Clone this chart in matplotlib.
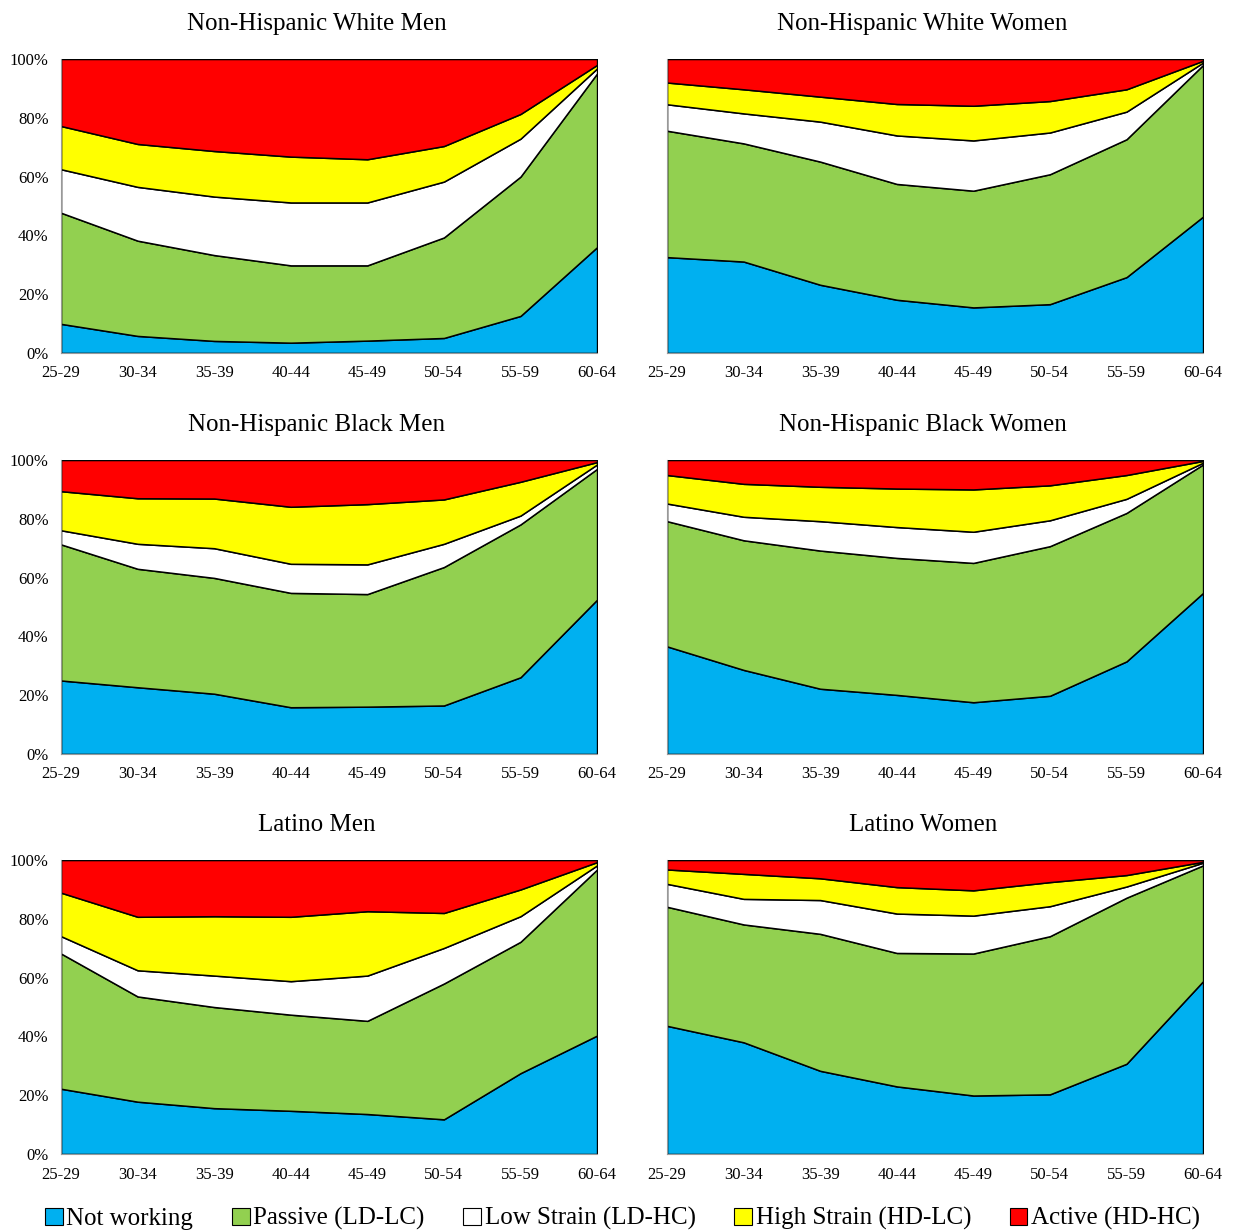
import matplotlib
matplotlib.use("Agg")
import matplotlib.pyplot as plt
from matplotlib.patches import Patch

plt.rcParams['font.family'] = ['Liberation Serif', 'DejaVu Serif']

ages = ["25-29", "30-34", "35-39", "40-44", "45-49", "50-54", "55-59", "60-64"]
categories = ["Not working", "Passive (LD-LC)", "Low Strain (LD-HC)",
              "High Strain (HD-LC)", "Active (HD-HC)"]
colors = ["#00B0F0", "#92D050", "#FFFFFF", "#FFFF00", "#FF0000"]

# shares (%) per age group
white_men_nw = [9.9, 5.8, 4.1, 3.5, 4.2, 5.1, 12.6, 36.0]
white_men_passive = [37.8, 32.4, 29.2, 26.3, 25.6, 34.2, 47.4, 59.1]
white_men_low = [14.8, 18.3, 19.9, 21.4, 21.4, 19.0, 12.9, 1.7]
white_men_high = [14.7, 14.6, 15.5, 15.6, 14.7, 12.1, 8.4, 1.2]
white_men_active = [22.8, 28.9, 31.3, 33.2, 34.1, 29.6, 18.7, 2.0]

white_women_nw = [32.6, 31.1, 23.2, 18.1, 15.5, 16.6, 25.8, 46.4]
white_women_passive = [43.0, 40.2, 41.9, 39.4, 39.7, 44.2, 46.9, 51.6]
white_women_low = [9.0, 10.2, 13.6, 16.5, 17.1, 14.2, 9.4, 0.8]
white_women_high = [7.4, 8.2, 8.5, 10.7, 11.8, 10.7, 7.6, 0.6]
white_women_active = [8.0, 10.3, 12.8, 15.3, 15.9, 14.3, 10.3, 0.6]

black_men_nw = [25.0, 22.7, 20.5, 15.9, 16.1, 16.5, 26.1, 52.5]
black_men_passive = [46.3, 40.3, 39.4, 38.9, 38.3, 47.1, 52.0, 44.5]
black_men_low = [4.8, 8.5, 10.1, 9.9, 10.1, 7.9, 3.0, 1.5]
black_men_high = [13.3, 15.5, 16.9, 19.4, 20.5, 15.1, 11.5, 0.8]
black_men_active = [10.6, 13.0, 13.1, 15.9, 15.0, 13.4, 7.4, 0.7]

black_women_nw = [36.6, 28.6, 22.2, 20.1, 17.6, 19.8, 31.5, 54.8]
black_women_passive = [42.6, 44.1, 47.0, 46.6, 47.4, 50.9, 50.5, 43.7]
black_women_low = [6.0, 8.0, 10.0, 10.5, 10.6, 8.8, 4.8, 0.6]
black_women_high = [9.7, 11.2, 11.7, 13.1, 14.4, 11.9, 8.1, 0.6]
black_women_active = [5.1, 8.1, 9.1, 9.7, 10.0, 8.6, 5.1, 0.3]

latino_men_nw = [22.2, 17.8, 15.6, 14.7, 13.6, 11.8, 27.5, 40.3]
latino_men_passive = [46.0, 35.8, 34.4, 32.7, 31.7, 46.2, 44.7, 56.5]
latino_men_low = [5.9, 8.9, 10.7, 11.4, 15.4, 12.1, 8.7, 1.4]
latino_men_high = [14.8, 18.2, 20.2, 21.9, 21.9, 11.9, 9.1, 1.1]
latino_men_active = [11.1, 19.3, 19.1, 19.3, 17.4, 18.0, 10.0, 0.7]

latino_women_nw = [43.6, 38.0, 28.3, 23.0, 19.9, 20.3, 30.7, 58.8]
latino_women_passive = [40.5, 40.1, 46.6, 45.4, 48.3, 53.8, 56.5, 39.4]
latino_women_low = [7.8, 8.7, 11.5, 13.4, 12.9, 10.2, 3.8, 0.9]
latino_women_high = [4.9, 8.5, 7.4, 9.0, 8.6, 8.2, 3.9, 0.3]
latino_women_active = [3.2, 4.7, 6.2, 9.2, 10.3, 7.5, 5.1, 0.6]

panels = [
    ("Non-Hispanic White Men", [white_men_nw, white_men_passive, white_men_low, white_men_high, white_men_active]),
    ("Non-Hispanic White Women", [white_women_nw, white_women_passive, white_women_low, white_women_high, white_women_active]),
    ("Non-Hispanic Black Men", [black_men_nw, black_men_passive, black_men_low, black_men_high, black_men_active]),
    ("Non-Hispanic Black Women", [black_women_nw, black_women_passive, black_women_low, black_women_high, black_women_active]),
    ("Latino Men", [latino_men_nw, latino_men_passive, latino_men_low, latino_men_high, latino_men_active]),
    ("Latino Women", [latino_women_nw, latino_women_passive, latino_women_low, latino_women_high, latino_women_active]),
]

fig = plt.figure(figsize=(12.38, 12.32), dpi=100)

lefts = [0.0493, 0.5388]
bottoms = [0.7135, 0.388, 0.0633]
w, h = 0.433, 0.2386
x = list(range(len(ages)))

for i, (title, series) in enumerate(panels):
    row, col = divmod(i, 2)
    ax = fig.add_axes([lefts[col], bottoms[row], w, h])
    ax.stackplot(x, *series, colors=colors, edgecolor="black", linewidth=1.1)
    ax.set_xlim(0, len(ages) - 1)
    ax.set_ylim(0, 100)
    ax.set_xticks(x)
    ax.set_xticklabels(ages, fontsize=12)
    ax.set_yticks(range(0, 101, 20))
    if col == 0:
        ax.set_yticklabels(["%d%%" % v for v in range(0, 101, 20)], fontsize=12)
    else:
        ax.set_yticklabels([])
    ax.tick_params(length=0, pad=9)
    for s in ["top", "right"]:
        ax.spines[s].set_visible(False)
    for s in ["left", "bottom"]:
        ax.spines[s].set_color("#999999")
    fig.text(lefts[col] + w / 2 - 0.01, bottoms[row] + h + 0.0235, title,
             ha="center", va="baseline", fontsize=18)

handles = [Patch(facecolor=c, edgecolor="black", linewidth=0.8) for c in colors]
fig.legend(handles, categories, loc="lower center", ncol=5, frameon=False,
           fontsize=18, handlelength=0.7, handleheight=0.7, handletextpad=0.15,
           columnspacing=1.55, bbox_to_anchor=(0.503, -0.017))

fig.savefig("out.png", dpi=100)
